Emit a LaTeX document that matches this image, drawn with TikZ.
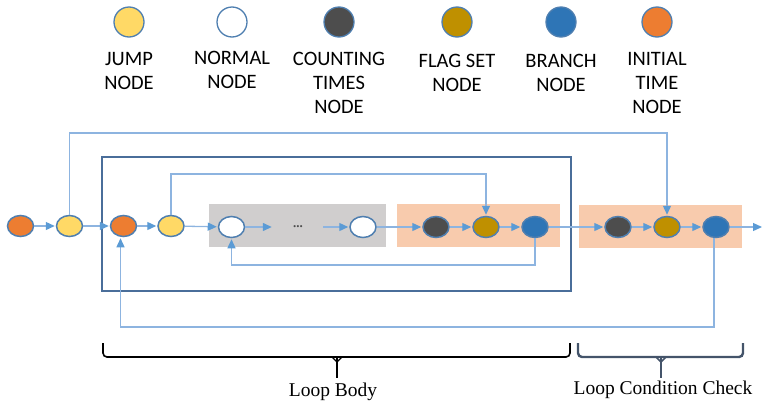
\documentclass[tikz,border=0pt]{standalone}
\usepackage{fontspec}
\setmainfont{Liberation Serif}
\newfontfamily\legendfont{Carlito}
\usetikzlibrary{arrows.meta,shapes.geometric}
\definecolor{cjump}{HTML}{FFD966}
\definecolor{cflag}{HTML}{BF9000}
\definecolor{cbranch}{HTML}{2E75B6}
\definecolor{cinit}{HTML}{ED7D31}
\definecolor{ccount}{HTML}{4D4D4D}
\definecolor{cline}{HTML}{4F7FB0}
\definecolor{cconn}{HTML}{8DB4E0}
\definecolor{ctip}{HTML}{5B9BD5}
\definecolor{cbox}{HTML}{4A6E9A}
\definecolor{cgray}{HTML}{D0CECE}
\definecolor{cpeach}{HTML}{F8CBAD}
\definecolor{cslate}{HTML}{44546A}
\tikzset{
  leg/.style={circle,draw=cline,line width=1.3pt,minimum size=30pt,inner sep=0pt},
  dot/.style={ellipse,draw=cline,line width=1.5pt,minimum width=26pt,minimum height=21pt,inner sep=0pt},
  jumpn/.style={fill=cjump},
  normn/.style={fill=white},
  countn/.style={fill=ccount},
  flagn/.style={fill=cflag},
  branchn/.style={fill=cbranch},
  initn/.style={fill=cinit},
  legtext/.style={anchor=north,align=center,inner sep=0pt,font=\legendfont\fontsize{20.5}{24}\selectfont},
  conn/.style={draw=cconn,line width=1.3pt},
  arr/.style={conn,-{Triangle[length=9pt,width=8pt,fill=ctip,color=ctip]},shorten >=1pt},
  bracetext/.style={inner sep=0pt,font=\fontsize{19.5}{22}\selectfont}
}
\begin{document}
\begin{tikzpicture}[x=1pt,y=-1pt]
\useasboundingbox (0,0) rectangle (762,402);
% legend
\node[leg,jumpn] (L1) at (129,22) {};
\node[leg,normn] (L2) at (232,22) {};
\node[leg,countn] (L3) at (339,22) {};
\node[leg,flagn] (L4) at (457,22) {};
\node[leg,branchn] (L5) at (561,22) {};
\node[leg,initn] (L6) at (657,22) {};
\node[legtext] (T1) at (129,52) {JUMP\\NODE};
\node[legtext] (T2) at (232,51) {NORMAL\\NODE};
\node[legtext] (T3) at (339,52) {COUNTING\\TIMES\\NODE};
\node[legtext] (T4) at (457,54) {FLAG SET\\NODE};
\node[legtext] (T5) at (561,54) {BRANCH\\NODE};
\node[legtext] (T6) at (657,52) {INITIAL\\TIME\\NODE};
% backgrounds
\fill[cgray] (209,204) rectangle (386,247);
\fill[cpeach] (397,204) rectangle (560,247);
\fill[cpeach] (579,205) rectangle (742,248);
\draw[cbox,line width=2pt] (102,157) rectangle (571,291);
% nodes
\node[dot,initn] (i1) at (20.5,226) {};
\node[dot,jumpn] (j1) at (69.5,226) {};
\node[dot,initn] (i2) at (123.5,226) {};
\node[dot,jumpn] (j2) at (171,226) {};
\node[dot,normn] (n1) at (231.5,227) {};
\node[minimum width=50pt,inner sep=0pt,font=\fontsize{13}{13}\selectfont\bfseries,text=ccount] (dots) at (298,227) {...};
\node[dot,normn] (n2) at (363,227) {};
\node[dot,countn] (c1) at (436,227) {};
\node[dot,flagn] (f1) at (486,227) {};
\node[dot,branchn] (b1) at (535,227) {};
\node[dot,countn] (c2) at (618,227) {};
\node[dot,flagn] (f2) at (667,227) {};
\node[dot,branchn] (b2) at (716,227) {};
\coordinate (out) at (762,227);
% connectors
\draw[arr] (i1) -- (j1);
\draw[arr] (j1) -- (i2);
\draw[arr] (i2) -- (j2);
\draw[arr] (j2) -- (n1);
\draw[arr] (n1) -- (dots);
\draw[arr] (dots) -- (n2);
\draw[arr] (n2) -- (c1);
\draw[arr] (c1) -- (f1);
\draw[arr] (f1) -- (b1);
\draw[arr] (b1) -- (c2);
\draw[arr] (c2) -- (f2);
\draw[arr] (f2) -- (b2);
\draw[arr,shorten >=0pt] (b2) -- (out);
\draw[arr] (j1.north) -- (j1.north |- 0,133) -| (f2.north);
\draw[arr] (j2.north) -- (j2.north |- 0,174) -| (f1.north);
\draw[arr] (b1.south) -- (b1.south |- 0,265) -| (n1.south);
\draw[arr] ([xshift=-2pt]b2.south) -- ([xshift=-2pt]b2.south |- 0,327) -| ([xshift=-3pt]i2.south);
% braces
\draw[black,line width=1.6pt,rounded corners=4pt] (103,343) -- (103,357) -- (570,357) -- (570,343);
\draw[black,line width=1.6pt] (337,357) -- (337,378);
\draw[black,line width=1.2pt] (332,357) -- (337,362) -- (342,357);
\draw[cslate,line width=2.4pt,rounded corners=4pt] (578,343) -- (578,357) -- (743,357) -- (743,343);
\draw[cslate,line width=2.4pt] (661,357) -- (661,378);
\draw[cslate,line width=1.6pt] (656,357) -- (661,362) -- (666,357);
\node[bracetext,anchor=base] (lb) at (333,396) {Loop Body};
\node[bracetext,anchor=base] (lc) at (663,394) {Loop Condition Check};
\end{tikzpicture}
\end{document}
